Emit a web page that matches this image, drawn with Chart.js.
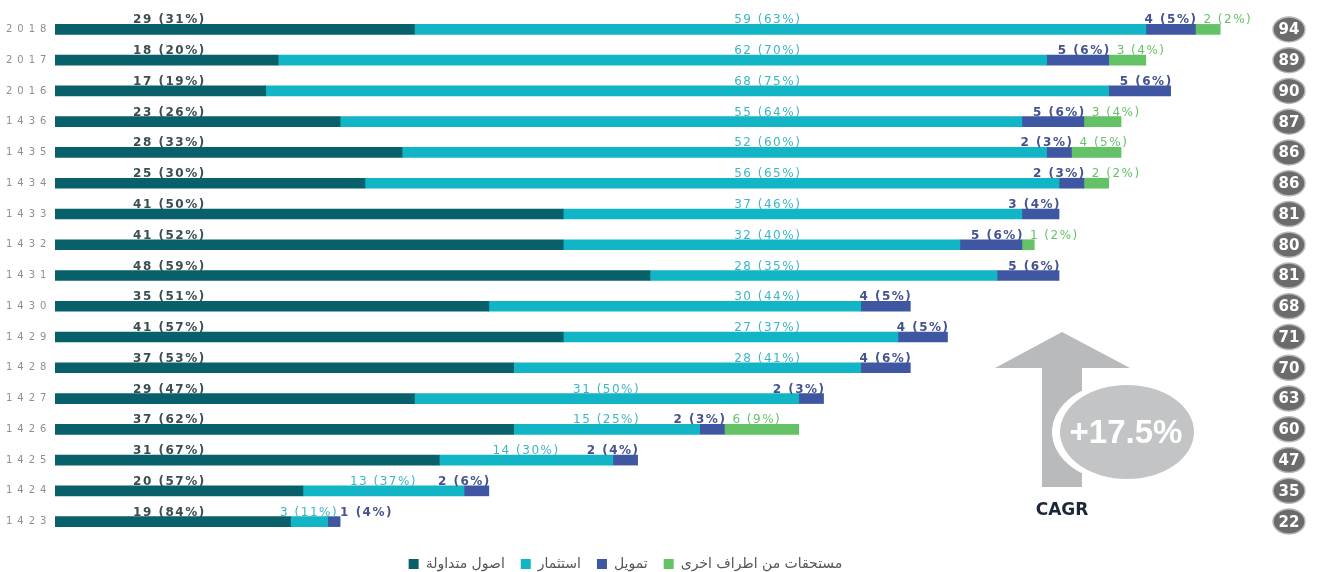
<!DOCTYPE html>
<html>
<head>
<meta charset="utf-8">
<script src="https://cdn.jsdelivr.net/npm/chart.js@4/dist/chart.umd.min.js"></script>
<style>
  html, body { margin: 0; padding: 0; background: #fff; }
  #wrap { width: 1317px; height: 572px; }
</style>
</head>
<body>
<div id="wrap"><canvas id="myChart" width="1317" height="572"></canvas></div>
<script>
// السنوات من الاعلى الى الاسفل
const years = ['2018','2017','2016','1436','1435','1434','1433','1432','1431','1430','1429','1428','1427','1426','1425','1424','1423'];

const asolValues = [29,18,17,23,28,25,41,41,48,35,41,37,29,37,31,20,19];
const asolPct    = [31,20,19,26,33,30,50,52,59,51,57,53,47,62,67,57,84];

const istithmarValues = [59,62,68,55,52,56,37,32,28,30,27,28,31,15,14,13,3];
const istithmarPct    = [63,70,75,64,60,65,46,40,35,44,37,41,50,25,30,37,11];

const tamweelValues = [4,5,5,5,2,2,3,5,5,4,4,4,2,2,2,2,1];
const tamweelPct    = [5,6,6,6,3,3,4,6,6,5,5,6,3,3,4,6,4];

const mustahaqatValues = [2,3,null,3,4,2,null,1,null,null,null,null,null,6,null,null,null];
const mustahaqatPct    = [2,4,null,4,5,2,null,2,null,null,null,null,null,9,null,null,null];

const totals = [94,89,90,87,86,86,81,80,81,68,71,70,63,60,47,35,22];

const seriesNames = ['اصول متداولة', 'استثمار', 'تمويل', 'مستحقات من اطراف اخرى'];
const colors = ['#07606a', '#12b5c6', '#3f56a3', '#63c166'];

const ctx = document.getElementById('myChart').getContext('2d');
const labelFont = '"DejaVu Sans", sans-serif';

// etiquetas de valores encima de cada segmento
const valueLabels = {
  id: 'valueLabels',
  afterDatasetsDraw(chart) {
    const c = chart.ctx;
    const xs = chart.scales.x;
    c.save();
    c.letterSpacing = '1.5px';
    c.textBaseline = 'alphabetic';
    years.forEach((yr, i) => {
      const b = [0,1,2,3].map(d => chart.getDatasetMeta(d).data[i]);
      const top = b[0].y - 5 - 1;

      // اصول متداولة
      c.font = 'bold 12px ' + labelFont;
      c.fillStyle = '#3b4e52';
      c.textAlign = 'left';
      c.fillText(asolValues[i] + ' (' + asolPct[i] + '%)', xs.getPixelForValue(6.3), top);

      // استثمار
      c.font = '12px ' + labelFont;
      c.fillStyle = '#3db5c7';
      c.textAlign = 'center';
      const endVal = asolValues[i] + istithmarValues[i];
      const cx = endVal > 61 ? xs.getPixelForValue(57.5) : (b[1].base + b[1].x) / 2;
      const cyanTxt = istithmarValues[i] + ' (' + istithmarPct[i] + '%)';
      c.fillText(cyanTxt, cx, top);
      const cyanRight = cx + c.measureText(cyanTxt).width / 2;

      // تمويل
      c.font = 'bold 12px ' + labelFont;
      c.fillStyle = '#44538f';
      c.textAlign = 'left';
      const blueTxt = tamweelValues[i] + ' (' + tamweelPct[i] + '%)';
      const bw = c.measureText(blueTxt).width;
      const bl = Math.max(b[2].x + 2 - bw, cyanRight + 2);
      c.fillText(blueTxt, bl, top);

      // مستحقات
      if (mustahaqatValues[i] != null) {
        c.font = '12px ' + labelFont;
        c.fillStyle = '#66c26a';
        c.fillText(mustahaqatValues[i] + ' (' + mustahaqatPct[i] + '%)', bl + bw + 6, top);
      }
    });
    c.restore();
  }
};

// espaciado de las etiquetas del eje y (se dibujan despues de las barras)
const tickSpacing = {
  id: 'tickSpacing',
  afterDatasetsDraw(chart) { chart.ctx.letterSpacing = '5px'; },
  afterDraw(chart) { chart.ctx.letterSpacing = '0px'; }
};

// دوائر المجموع و سهم النمو
const extras = {
  id: 'extras',
  afterDraw(chart) {
    const c = chart.ctx;
    const area = chart.chartArea;
    const meta = chart.getDatasetMeta(0);
    c.save();
    c.letterSpacing = '0px';
    totals.forEach((t, i) => {
      const y = meta.data[i].y;
      const x = area.right + 44;
      c.beginPath();
      c.ellipse(x, y, 16, 12.5, 0, 0, Math.PI * 2);
      c.fillStyle = '#6b6b6b';
      c.fill();
      c.lineWidth = 1.5;
      c.strokeStyle = '#b8b8b8';
      c.stroke();
      c.fillStyle = '#fff';
      c.font = 'bold 15px ' + labelFont;
      c.textAlign = 'center';
      c.textBaseline = 'middle';
      c.fillText(String(t), x, y + 1);
    });

    // السهم
    c.fillStyle = '#b9babc';
    c.beginPath();
    c.moveTo(1062, 332);
    c.lineTo(1130, 368);
    c.lineTo(1082, 368);
    c.lineTo(1082, 487);
    c.lineTo(1042, 487);
    c.lineTo(1042, 368);
    c.lineTo(995, 368);
    c.closePath();
    c.fill();

    c.beginPath();
    c.ellipse(1124, 432, 72, 51, 0, 0, Math.PI * 2);
    c.fillStyle = '#ffffff';
    c.fill();
    c.beginPath();
    c.ellipse(1127, 432, 67, 47, 0, 0, Math.PI * 2);
    c.fillStyle = '#c3c4c6';
    c.fill();

    c.fillStyle = '#ffffff';
    c.font = 'bold 33px "Liberation Sans", Arial, sans-serif';
    c.textAlign = 'center';
    c.textBaseline = 'middle';
    c.fillText('+17.5%', 1126, 434);

    c.fillStyle = '#1d2836';
    c.font = 'bold 17px ' + labelFont;
    c.fillText('CAGR', 1062, 511);
    c.restore();
  }
};

const grafico = new Chart(ctx, {
  type: 'bar',
  data: {
    labels: years,
    datasets: [
      { label: seriesNames[0], data: asolValues, backgroundColor: colors[0] },
      { label: seriesNames[1], data: istithmarValues, backgroundColor: colors[1] },
      { label: seriesNames[2], data: tamweelValues, backgroundColor: colors[2] },
      { label: seriesNames[3], data: mustahaqatValues, backgroundColor: colors[3] }
    ]
  },
  options: {
    indexAxis: 'y',
    responsive: false,
    animation: false,
    datasets: { bar: { barThickness: 10, borderWidth: 0 } },
    layout: { padding: { left: 6, right: 72, top: 14, bottom: -9 } },
    scales: {
      x: {
        stacked: true,
        min: 0,
        max: 96,
        display: true,
        grid: { display: false },
        border: { display: false },
        ticks: { display: false },
        afterFit: (scale) => { scale.height = 4; }
      },
      y: {
        stacked: true,
        grid: { display: false },
        border: { display: false },
        afterFit: (scale) => { scale.width = 49; },
        ticks: {
          z: 1,
          crossAlign: 'far',
          color: '#8f8f8f',
          font: { size: 10, family: labelFont },
          padding: 4
        }
      }
    },
    plugins: {
      legend: {
        position: 'bottom',
        labels: {
          boxWidth: 10,
          boxHeight: 10,
          padding: 16,
          color: '#555',
          font: { size: 14, family: labelFont }
        }
      },
      tooltip: { enabled: false }
    }
  },
  plugins: [valueLabels, tickSpacing, extras]
});
</script>
</body>
</html>
